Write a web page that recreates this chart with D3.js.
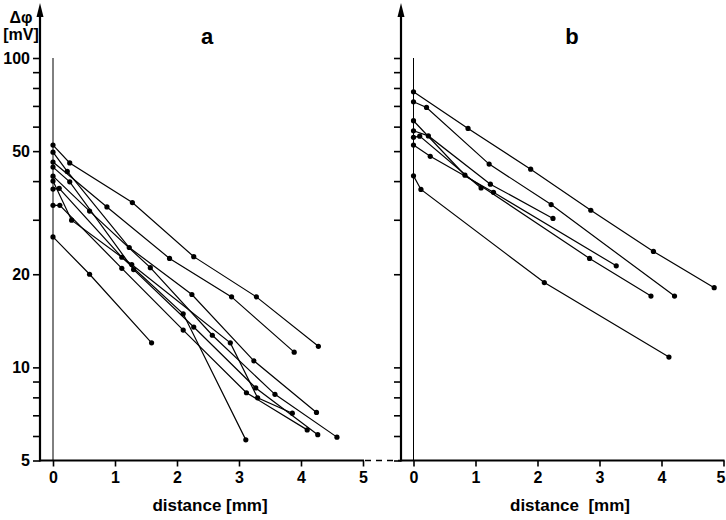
<!DOCTYPE html>
<html><head><meta charset="utf-8">
<script src="https://cdn.jsdelivr.net/npm/d3@7"></script>
<style>
body{margin:0;background:#fff}
svg{display:block}
text{font-family:"Liberation Sans",Arial,sans-serif;fill:#000}
</style>
</head><body>
<svg id="c" width="726" height="520"></svg>
<script>
// tick values
const yTicks = [5,6,7,8,9,10,20,30,40,50,60,70,80,90,100];
const yLabels = [5,10,20,50,100];
const xTicks = [0,1,2,3,4,5];

// panel a series: [distance mm, delta phi mV]
const a1 = [[0,52.3],[0.27,45.8],[1.28,34.1],[2.27,22.8],[3.28,16.9],[4.28,11.7]];
const a2 = [[0,46.1],[0.87,33.0],[1.88,22.5],[2.88,16.9],[3.89,11.2]];
const a3 = [[0,26.4],[0.59,20.0],[1.59,12.0]];
const a4 = [[0,49.6],[0.23,43.0],[1.23,24.4],[2.24,17.2],[3.24,10.5],[4.25,7.15]];
const a5 = [[0,44.4],[0.27,39.8],[1.30,20.7],[2.27,13.5],[3.27,8.58],[4.27,6.06]];
const a6 = [[0,40.0],[0.30,29.9],[1.27,21.5],[2.86,12.0],[3.30,7.97],[3.86,7.11]];
const a7 = [[0,41.5],[0.59,32.0],[1.57,21.0],[2.57,12.7],[3.58,8.18],[4.58,5.95]];
const a8 = [[0,33.4],[0.11,33.4],[1.11,20.9],[2.10,13.2],[3.12,8.28],[4.10,6.28]];
const a9 = [[0,37.7],[0.10,37.9],[1.11,22.7],[2.10,14.9],[3.11,5.83]];

// panel b series
const b1 = [[0,77.8],[0.88,59.2],[1.89,43.7],[2.86,32.2],[3.87,23.7],[4.85,18.1]];
const b2 = [[0,72.2],[0.21,69.2],[1.22,45.4],[2.22,33.6],[4.21,17.0]];
const b3 = [[0,52.3],[0.27,48.1],[1.29,36.8],[3.27,21.3]];
const b4 = [[0,62.7],[0.83,41.8],[2.84,22.5],[3.83,17.0]];
const b5 = [[0,41.6],[0.12,37.6],[2.11,18.8],[4.12,10.8]];
const b6 = [[0,58.2],[0.24,56.0],[1.24,39.1],[2.25,30.3]];
const b7 = [[0,55.4],[0.10,55.9],[1.09,38.0]];

const seriesA = [a1,a2,a3,a4,a5,a6,a7,a8,a9];
const seriesB = [b1,b2,b3,b4,b5,b6,b7];

const svg = d3.select("#c");
const y = d3.scaleLog().domain([5,100]).range([460.5,58]);
const xa = d3.scaleLinear().domain([0,5]).range([53,363]);
const xb = d3.scaleLinear().domain([0,5]).range([413.5,723.5]);

function panel(x, axisX, series, showLabels, title, titleX, xlabel, xlabelX) {
  const g = svg.append("g");
  // y axis ticks
  const yAx = d3.axisLeft(y).tickValues(yTicks).tickSize(7).tickPadding(3)
    .tickFormat(d => (showLabels && yLabels.includes(d)) ? String(d) : "");
  const gy = g.append("g").attr("transform", `translate(${axisX},0)`).call(yAx);
  gy.select(".domain").remove();
  gy.selectAll(".tick line").attr("stroke","#000").attr("stroke-width",1.6);
  gy.selectAll(".tick text").style("font-size","16px").style("font-weight","bold").attr("fill","#000");
  // y axis line with arrow
  g.append("line").attr("x1",axisX).attr("x2",axisX).attr("y1",y(5)+1).attr("y2",14)
    .attr("stroke","#000").attr("stroke-width",2.2);
  g.append("path").attr("d",`M${axisX},3 L${axisX-3.5},17 L${axisX+3.5},17 Z`).attr("fill","#000");

  // x axis
  const xAx = d3.axisBottom(x).tickValues(xTicks).tickSize(6).tickPadding(5).tickFormat(d3.format("d"));
  const gx = g.append("g").attr("transform", `translate(0,${y(5)})`).call(xAx);
  gx.select(".domain").remove();
  gx.selectAll(".tick line").attr("stroke","#000").attr("stroke-width",1.6);
  gx.selectAll(".tick text").style("font-size","16px").style("font-weight","bold").attr("fill","#000")
    .attr("dx", d => (d === 5 && x(5) > 700) ? -3 : 0);
  g.append("line").attr("x1",axisX).attr("x2",x(5)+1).attr("y1",y(5)).attr("y2",y(5))
    .attr("stroke","#000").attr("stroke-width",2.2);

  // x = 0 reference line
  g.append("line").attr("x1",x(0)).attr("x2",x(0)).attr("y1",y(100)).attr("y2",y(5))
    .attr("stroke","#000").attr("stroke-width",1);

  // data
  const line = d3.line().x(d => x(d[0])).y(d => y(d[1]));
  series.forEach(s => {
    g.append("path").attr("d", line(s)).attr("fill","none").attr("stroke","#000").attr("stroke-width",1.2);
    g.selectAll(null).data(s).enter().append("circle")
      .attr("cx", d => x(d[0])).attr("cy", d => y(d[1])).attr("r", 2.6).attr("fill","#000");
  });

  g.append("text").attr("x", titleX).attr("y", 44).attr("text-anchor","middle")
    .style("font-size","22px").style("font-weight","bold").text(title);
  g.append("text").attr("x", xlabelX).attr("y", 511).attr("text-anchor","middle")
    .style("font-size","17px").style("font-weight","bold").attr("xml:space","preserve").text(xlabel);
}

panel(xa, 40, seriesA, true, "a", 207, "distance [mm]", 210);
panel(xb, 401, seriesB, false, "b", 572, "distance  [mm]", 570);

// dashed connector between panels
svg.append("line").attr("x1", 365).attr("x2", 400).attr("y1", y(5)).attr("y2", y(5))
  .attr("stroke","#000").attr("stroke-width",1.4).attr("stroke-dasharray","6,5");

// y axis label
svg.append("text").attr("x", 21).attr("y", 23).attr("text-anchor","middle")
  .style("font-size","16px").style("font-weight","bold").text("Δφ");
svg.append("text").attr("x", 21).attr("y", 40).attr("text-anchor","middle")
  .style("font-size","16px").style("font-weight","bold").text("[mV]");
</script>
</body></html>
